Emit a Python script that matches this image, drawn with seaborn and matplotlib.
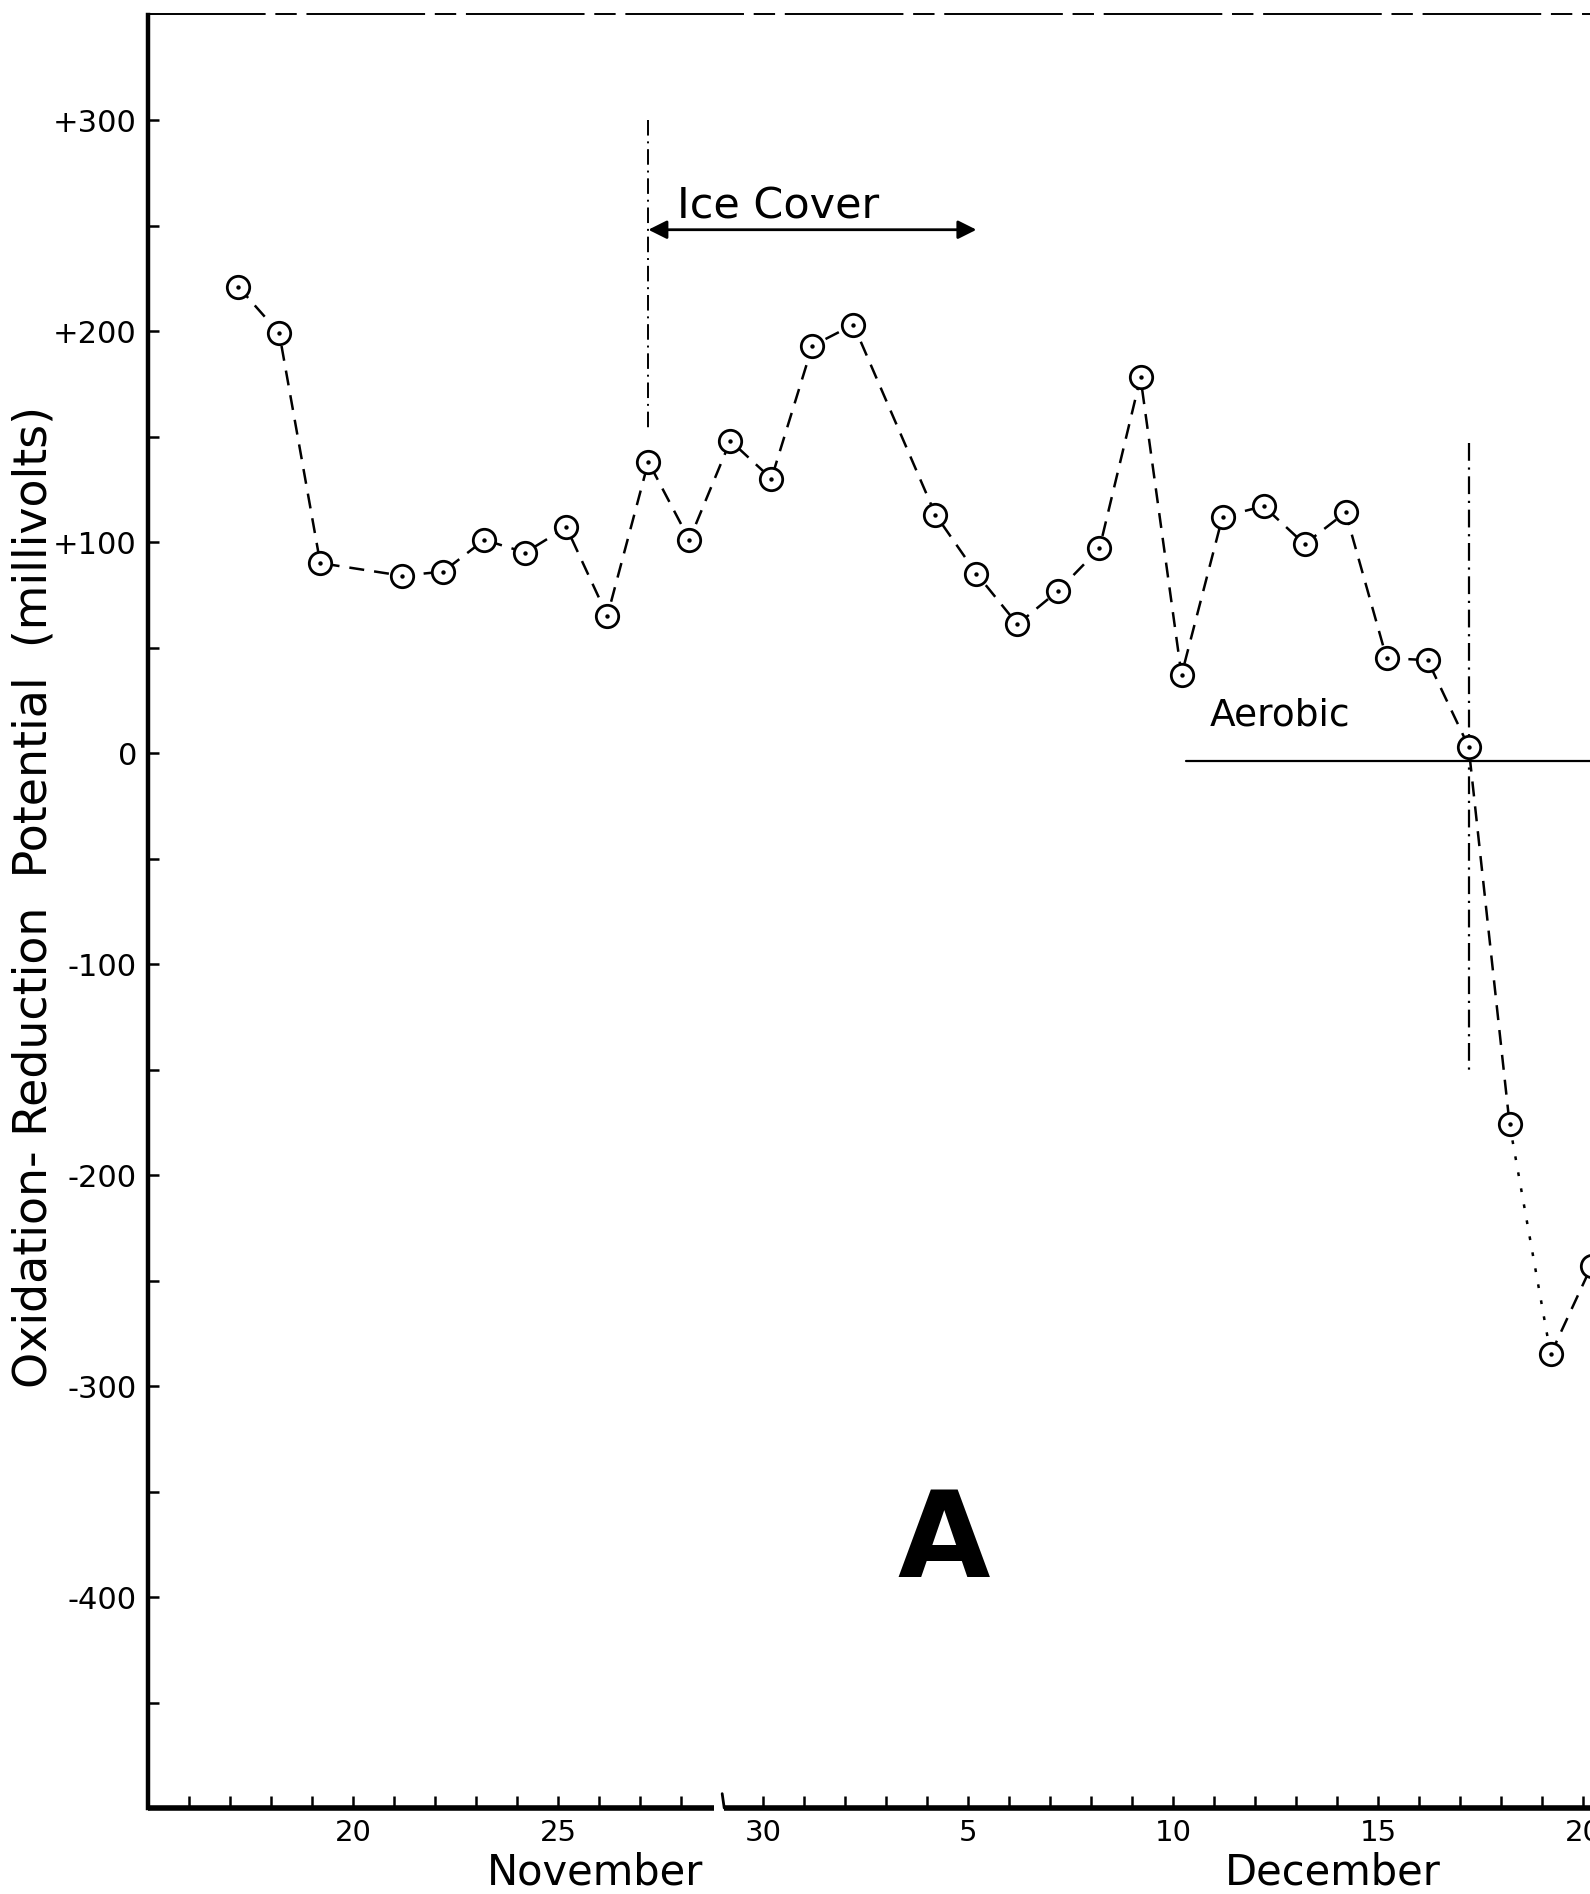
"""
Oxidation-reduction potential of lake water, November - December (panel A).
Daily readings plotted as open circles joined by a dashed line, with the
ice cover period and the aerobic/anaerobic boundary marked.
"""

import matplotlib
matplotlib.use("Agg")
import matplotlib.pyplot as plt
import matplotlib.transforms as mtransforms
import numpy as np
import pandas as pd
import seaborn as sns

# ==============================================================================
# DATA (day index: November days as-is, December days = 30 + day)
# ==============================================================================
DAYS = [17, 18, 19, 21, 22, 23, 24, 25, 26, 27, 28, 29, 30,
        31, 32, 34, 35, 36, 37, 38, 39, 40, 41, 42, 43, 44, 45, 46, 47, 48, 49, 50]
ORP_MV = [221, 199, 90, 84, 86, 101, 95, 107, 65, 138, 101, 148, 130,
          193, 203, 113, 85, 61, 77, 97, 178, 37, 112, 117, 99, 114, 45, 44, 3, -176, -285, -243]

# readings were taken a little after the day tick
SAMPLE_OFFSET = 0.2

X_TICK_DAYS = [d for d in range(16, 51) if d != 29]
X_LABEL_DAYS = [20, 25, 30, 35, 40, 45, 50]
X_LABELS = ["20", "25", "30", "5", "10", "15", "20"]

Y_TICKS = [300, 200, 100, 0, -100, -200, -300, -400]
Y_LABELS = ["+300", "+200", "+100", "0", "-100", "-200", "-300", "-400"]
Y_MINOR = [250, 150, 50, -50, -150, -250, -350, -450]

MONTHS = ["November", "December"]
MONTH_CENTRES = [25.9, 43.9]

ICE_START, ICE_END = 27, 35
ANAEROBIC_DAY = 47
AEROBIC_LINE_START = 40.3
AXIS_BREAK = (28.8, 29.05)

XLIM = (15, 50.16)
YLIM = (-500, 350)

# ==============================================================================

sns.set_theme(style="white")
plt.rcParams["font.family"] = ["DejaVu Sans"]

df = pd.DataFrame({"day": np.array(DAYS) + SAMPLE_OFFSET, "orp": ORP_MV})

fig = plt.figure(figsize=(15.9, 18.94), dpi=100)
ax = fig.add_axes([148 / 1590, 86 / 1894, (1590 - 148) / 1590, (1808 - 14.5) / 1894])

# dashed trace; the Dec 18 -> Dec 19 stretch is drawn dotted in the original
n_dot = DAYS.index(48)
dash_kw = dict(color="black", linewidth=1.8, legend=False, ax=ax, zorder=2)
sns.lineplot(data=df.iloc[: n_dot + 1], x="day", y="orp", linestyle=(0, (6, 4)), **dash_kw)
sns.lineplot(data=df.iloc[n_dot: n_dot + 2], x="day", y="orp", linestyle=(0, (1.5, 5)), **dash_kw)
sns.lineplot(data=df.iloc[n_dot + 1:], x="day", y="orp", linestyle=(0, (6, 4)), **dash_kw)

# open circles with a centre dot
sns.scatterplot(data=df, x="day", y="orp", s=260, facecolor="white", edgecolor="black",
                linewidth=2.0, ax=ax, zorder=3, legend=False)
sns.scatterplot(data=df, x="day", y="orp", s=10, color="black", linewidth=0,
                ax=ax, zorder=4, legend=False)

# ice cover marker
ax.plot([ICE_START + SAMPLE_OFFSET] * 2, [300, 152], color="black", lw=1.4,
        linestyle=(0, (8, 3, 1, 3)), zorder=1)
ax.annotate("", xy=(ICE_START + SAMPLE_OFFSET, 248), xytext=(ICE_END + SAMPLE_OFFSET, 248),
            arrowprops=dict(arrowstyle="<|-|>", color="black", lw=2.0, mutation_scale=28,
                            shrinkA=0, shrinkB=0))
ax.text(ICE_START + 0.9, 259, "Ice Cover", fontsize=31, ha="left", va="center",
        color="black")

# aerobic / anaerobic boundary
ax.plot([ANAEROBIC_DAY + SAMPLE_OFFSET] * 2, [147, -150], color="black", lw=1.6,
        linestyle=(0, (8, 3, 1, 3)), zorder=1)
ax.plot([AEROBIC_LINE_START, XLIM[1]], [-4, -4], color="black", lw=1.6, zorder=1)
ax.text(42.6, 18, "Aerobic", fontsize=27, ha="center", va="center", color="black")

# panel letter
ax.text(34.4, -375, "A", fontsize=86, fontweight="bold", ha="center", va="center",
        color="black")

ax.set_xlim(*XLIM)
ax.set_ylim(*YLIM)

ax.set_xticks(X_TICK_DAYS)
ax.set_xticklabels([X_LABELS[X_LABEL_DAYS.index(d)] if d in X_LABEL_DAYS else ""
                    for d in X_TICK_DAYS])
ax.set_yticks(Y_TICKS)
ax.set_yticklabels(Y_LABELS)
ax.set_yticks(Y_MINOR, minor=True)

ax.tick_params(axis="x", which="major", direction="in", length=9, width=1.8,
               labelsize=21, pad=8, bottom=True, colors="black")
ax.tick_params(axis="y", which="both", direction="in", length=8, width=1.8,
               labelsize=22, pad=8, left=True, colors="black")

ax.set_xlabel("")
ax.set_ylabel("Oxidation- Reduction  Potential  (millivolts)", fontsize=33,
              color="black", va="center")
ax.yaxis.set_label_coords(-0.079, 0.508)

# month names under the day labels
trans = mtransforms.blended_transform_factory(ax.transData, ax.transAxes)
for name, centre in zip(MONTHS, MONTH_CENTRES):
    ax.text(centre, -0.036, name, transform=trans, fontsize=30, ha="center",
            va="center", color="black")

# spines: heavy left axis, thin broken top border, bottom axis with a break
ax.spines["left"].set_linewidth(3.2)
ax.spines["left"].set_color("black")
ax.spines["top"].set_linewidth(1.4)
ax.spines["top"].set_color("black")
ax.spines["top"].set_linestyle((0, (60, 6, 10, 6)))
ax.spines["right"].set_visible(False)
ax.spines["bottom"].set_visible(False)

ax.plot([XLIM[0], AXIS_BREAK[0]], [0, 0], transform=trans, color="black", lw=4,
        clip_on=False, solid_capstyle="butt")
ax.plot([AXIS_BREAK[1], XLIM[1]], [0, 0], transform=trans, color="black", lw=4,
        clip_on=False, solid_capstyle="butt")
ax.plot([AXIS_BREAK[1], AXIS_BREAK[1] - 0.05], [0, 0.008], transform=trans,
        color="black", lw=2, clip_on=False)

ax.grid(False)
fig.savefig("out.png", dpi=100, facecolor="white")
